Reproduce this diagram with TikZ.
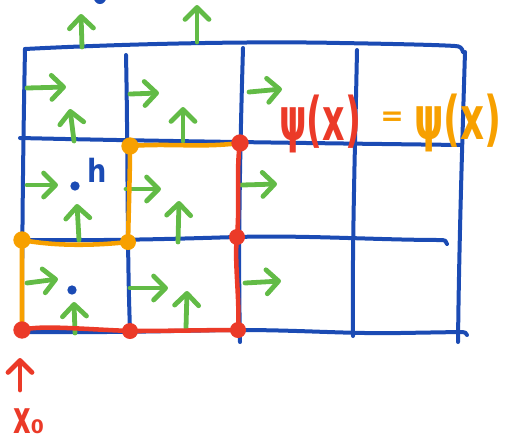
\documentclass[tikz,border=0pt]{standalone}
\usepackage{fontspec}
\usepackage{graphicx}
\newfontfamily\markerfont{DejaVu Sans}
\usetikzlibrary{arrows.meta}
\definecolor{gridblue}{RGB}{27,75,180}
\definecolor{fieldgreen}{RGB}{98,187,70}
\definecolor{pathred}{RGB}{235,58,40}
\definecolor{pathorange}{RGB}{247,160,0}
\newcommand\marker[2]{{\markerfont\bfseries\fontsize{#1}{#1}\selectfont #2}}
\begin{document}
\begin{tikzpicture}[x=0.75pt,y=-0.75pt,
  gridline/.style={draw=gridblue,line width=3pt,line cap=round,line join=round},
  fieldarrow/.style={draw=fieldgreen,line width=3.6pt,line cap=round,
    -{Straight Barb[length=9pt,width=18pt,round]}},
  redarrow/.style={draw=pathred,line width=3.6pt,line cap=round,
    -{Straight Barb[length=9pt,width=18pt,round]}},
  redpath/.style={draw=pathred,line width=3.4pt,line cap=round,line join=round},
  orangepath/.style={draw=pathorange,line width=3.4pt,line cap=round,line join=round},
  reddot/.style={circle,fill=pathred,inner sep=0pt,minimum size=12pt},
  orangedot/.style={circle,fill=pathorange,inner sep=0pt,minimum size=12pt},
  bluedot/.style={circle,fill=gridblue,inner sep=0pt,minimum size=7pt},
  biglabel/.style={anchor=base west,inner sep=0pt}
]
\useasboundingbox (0,0) rectangle (510,444);

% ---- lattice (blue) ----
\draw[gridline] (25,49) .. controls (120,44) and (250,41) .. (340,43)
  .. controls (400,44) and (440,45) .. (455,46) .. controls (460,46) and (462,48) .. (463,52);
\draw[gridline] (20,138) .. controls (150,141) and (300,143) .. (462,145);
\draw[gridline] (22,240) .. controls (120,241) and (200,238) .. (237,237)
  .. controls (300,235) and (380,240) .. (440,240) .. controls (445,240) and (447,241) .. (447,244);
\draw[gridline] (22,332) .. controls (120,333) and (200,330) .. (240,330)
  .. controls (300,330) and (350,334) .. (400,333) -- (460,332)
  .. controls (465,332) and (467,333) .. (467,335);
\draw[gridline] (25,49) .. controls (23,150) and (22,250) .. (22,336);
\draw[gridline] (126,55) .. controls (128,150) and (127,250) .. (130,330);
\draw[gridline] (243,48) .. controls (240,150) and (238,250) .. (240,342);
\draw[gridline] (357,50) .. controls (355,150) and (352,250) .. (353,336);
\draw[gridline] (465,52) .. controls (462,150) and (459,250) .. (458,342);

% site markers
\node[bluedot,minimum size=9pt] (topsite) at (100,-2) {};
\node[bluedot] (site1) at (75,186) {};
\node[bluedot] (site2) at (72,290) {};
\node[text=gridblue,anchor=base,inner sep=0pt] (hlabel) at (97,182)
  {\scalebox{0.85}[1]{\marker{24}{h}}};

% ---- link field (green) ----
\foreach \n/\ax/\ay/\bx/\by in {
  r1/27/88/66/87, r2/130/94/159/93, r3/249/92/282/89,
  r4/27/185/58/185, r5/126/189/161/189, r6/242/185/277/184,
  r7/27/283/58/279, r8/130/288/168/288, r9/245/283/281/281,
  u1/82/47/81/14, u2/197/42/197/5,
  u3/74/141/70/109, u4/183/141/183/107,
  u5/79/240/77/204, u6/178/242/179/201,
  u7/75/333/74/302, u8/186/328/187/291} {
  \coordinate (\n tail) at (\ax,\ay);
  \coordinate (\n tip) at (\bx,\by);
  \draw[fieldarrow] (\n tail) -- (\n tip);
}

% ---- the two paths from x0 ----
\coordinate (o) at (22,330);
\coordinate (b1) at (130,331);
\coordinate (b2) at (238,330);
\coordinate (m2) at (237,237);
\coordinate (t2) at (240,143);
\coordinate (t1) at (130,146);
\coordinate (m1) at (128,242);
\coordinate (m0) at (22,240);

\draw[redpath] (o) .. controls (40,325) and (80,329) .. (b1)
  .. controls (170,331) and (210,330) .. (b2)
  .. controls (240,300) and (234,260) .. (m2)
  .. controls (240,200) and (236,170) .. (t2);
\draw[orangepath] (o) -- (m0) .. controls (60,247) and (100,245) .. (m1)
  .. controls (129,200) and (130,170) .. (t1)
  .. controls (170,143) and (200,148) .. (t2);

\node[reddot,minimum size=13pt] (odot) at (o) {};
\node[reddot] (b1dot) at (b1) {};
\node[reddot] (b2dot) at (b2) {};
\node[reddot] (m2dot) at (m2) {};
\node[reddot,minimum size=13pt] (t2dot) at (t2) {};
\node[orangedot,minimum size=13pt] (t1dot) at (t1) {};
\node[orangedot] (m1dot) at (m1) {};
\node[orangedot,minimum size=13pt] (m0dot) at (m0) {};

% start point label
\coordinate (x0tail) at (20,390);
\coordinate (x0tip) at (20,358);
\draw[redarrow] (x0tail) -- (x0tip);
\node[text=pathred,biglabel] (x0) at (13,433)
  {\scalebox{0.6}[1]{\marker{34}{x}}\marker{14}{0}};

% equality of the two path values
\node[biglabel,text=pathred] (lhs) at (279,140) {\scalebox{0.58}[1]{\marker{45}{ψ(x)}}};
\node[text=pathorange,inner sep=0pt] (eq) at (392,119) {\marker{21}{=}};
\node[biglabel,text=pathorange] (rhs) at (414,139) {\scalebox{0.62}[1]{\marker{45}{ψ(x)}}};
\end{tikzpicture}
\end{document}
